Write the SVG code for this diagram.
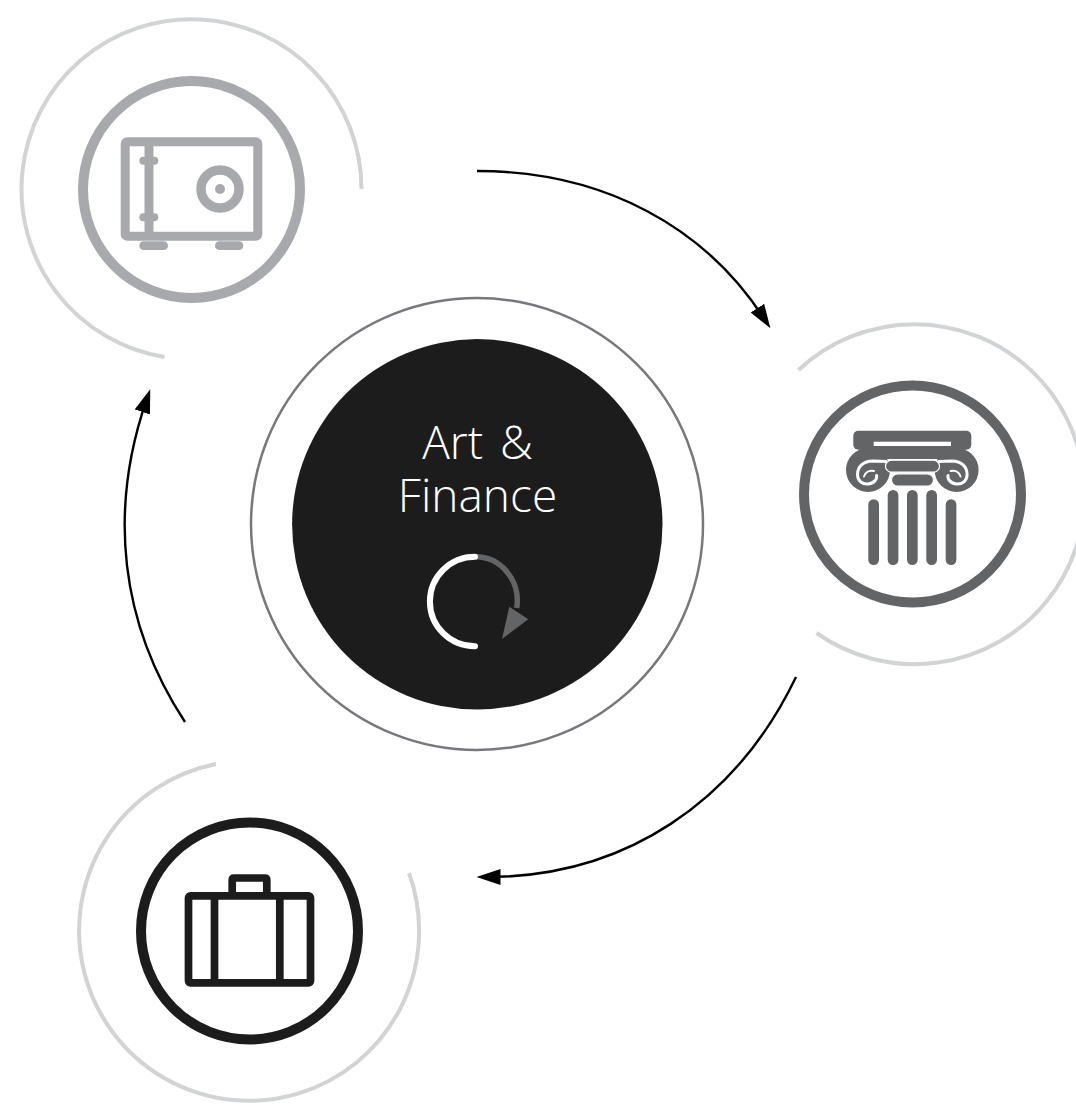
<svg xmlns="http://www.w3.org/2000/svg" xmlns:xlink="http://www.w3.org/1999/xlink" width="1076" height="1109" viewBox="0 0 1076 1109">
<style>
.halo{fill:none;stroke:#d1d3d4;stroke-width:4}
.ring{fill:#fff;stroke-width:10}
.conn{fill:none;stroke:#000;stroke-width:2.4}
.label{font-family:"Open Sans","Liberation Sans",sans-serif;font-size:46px;font-weight:300;fill:#fff;text-anchor:middle;word-spacing:5px}
.safe{fill:#a7a9ac}
.col{fill:#636466}
.bar{fill:#636466;stroke:#fff;stroke-width:1.2}
</style>
<defs>
<marker id="head" markerUnits="userSpaceOnUse" markerWidth="26" markerHeight="18" refX="13.5" refY="8" orient="auto">
<path d="M0 0L24 8L0 16Z" fill="#000"/>
</marker>
<g id="volute">
<circle class="col" cx="868" cy="470" r="22"/>
<path d="M886 461.5L873 461C863 461 857.5 467 857.5 474.5C857.5 481 862.5 484.5 868 484C874 483.5 877.5 479 876.5 475.5" fill="none" stroke="#fff" stroke-width="3" stroke-linecap="round"/>
<path d="M864 476.5C865.5 472 869.5 470 874 471" fill="none" stroke="#fff" stroke-width="2" stroke-linecap="round"/>
</g>
</defs>
<rect width="1076" height="1109" fill="#fff"/>
<g id="connectors">
<path class="conn" d="M477 171C605 171 706 228 764.7 319.5" marker-end="url(#head)"/>
<path class="conn" d="M796 677C736 802 625 877 487 877" marker-end="url(#head)"/>
<path class="conn" d="M185 722C120 623 108 511 146.8 399.2" marker-end="url(#head)"/>
</g>
<g id="center">
<circle cx="477" cy="524" r="226" fill="#fff" stroke="#77787b" stroke-width="2.5"/>
<circle cx="477.3" cy="524.3" r="185.2" fill="#1c1c1c"/>
<text class="label" x="477.5" y="459">Art &amp;</text>
<text class="label" x="477.5" y="512">Finance</text>
<path d="M475 556.7A42 44 0 0 1 516.7 608" fill="none" stroke="#636466" stroke-width="5.5"/>
<path d="M509.3 606.7L528.3 619.3L502 639Z" fill="#636466"/>
<path d="M475 556.7A45 44.7 0 0 0 475 646.3" fill="none" stroke="#fff" stroke-width="6" stroke-linecap="round"/>
</g>
<g id="safe">
<path class="halo" d="M361.5 189A170 170 0 1 0 164.5 357"/>
<circle class="ring" cx="191.5" cy="189.5" r="108.5" stroke="#a7a9ac"/>
<rect x="125.2" y="141.8" width="132.6" height="94.4" rx="2" fill="none" stroke="#a7a9ac" stroke-width="9"/>
<rect class="safe" x="144.5" y="142" width="9" height="94"/>
<rect class="safe" x="139.3" y="156.7" width="19" height="8" rx="4"/>
<rect class="safe" x="139.3" y="213.3" width="19" height="8" rx="4"/>
<circle cx="220" cy="189" r="19" fill="none" stroke="#a7a9ac" stroke-width="9.5"/>
<circle class="safe" cx="220" cy="189" r="5"/>
<rect class="safe" x="139.3" y="241.3" width="28.7" height="8.7" rx="4.3"/>
<rect class="safe" x="215" y="241.3" width="28.3" height="8.7" rx="4.3"/>
</g>
<g id="column">
<path class="halo" d="M798.5 370A170 170 0 1 1 816.5 633"/>
<circle class="ring" cx="912.5" cy="494" r="108.5" stroke="#636466"/>
<use xlink:href="#volute" href="#volute"/>
<use xlink:href="#volute" href="#volute" transform="translate(1824.6 0) scale(-1 1)"/>
<rect class="col" x="860" y="440" width="105" height="19"/>
<rect class="col" x="853.3" y="430.7" width="118" height="19" rx="5"/>
<rect x="873.7" y="441.7" width="77.3" height="4.3" fill="#fff"/>
<rect class="bar" x="885.5" y="460.2" width="54" height="12" rx="6"/>
<rect class="bar" x="891.5" y="473.8" width="42" height="12.4" rx="6.2"/>
<rect class="col" x="868.3" y="499.3" width="10.7" height="65.7" rx="5.3"/>
<rect class="col" x="887.7" y="490" width="10.7" height="75" rx="5.3"/>
<rect class="col" x="907" y="490" width="10.7" height="75" rx="5.3"/>
<rect class="col" x="926.3" y="490" width="10.7" height="75" rx="5.3"/>
<rect class="col" x="945.7" y="499.3" width="10.7" height="65.7" rx="5.3"/>
</g>
<g id="briefcase">
<path class="halo" d="M216 764A170 170 0 1 0 409 873"/>
<circle class="ring" cx="249.5" cy="931" r="108.5" stroke="#1c1c1c"/>
<rect x="188.5" y="895.8" width="122" height="87" rx="2" fill="none" stroke="#1c1c1c" stroke-width="7.7"/>
<path d="M214.5 896V983M279.8 896V983" fill="none" stroke="#1c1c1c" stroke-width="7.7"/>
<path d="M232.2 896V880Q232.2 878 234.2 878H264.8Q266.8 878 266.8 880V896" fill="none" stroke="#1c1c1c" stroke-width="7.7"/>
</g>
</svg>
